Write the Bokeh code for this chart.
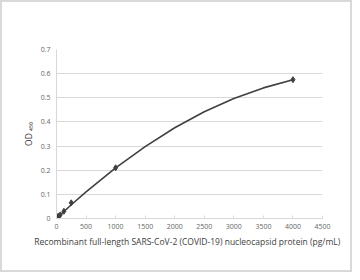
from bokeh.plotting import figure
from bokeh.models import Range1d, FixedTicker
from bokeh.embed import file_html
from bokeh.resources import INLINE

# measured standards
conc = [0, 31.25, 62.5, 125, 250, 1000, 4000]
od = [0.005, 0.010, 0.015, 0.030, 0.065, 0.210, 0.575]

# trend curve
curve_x = [0, 250, 500, 1000, 1500, 2000, 2500, 3000, 3500, 4000]
curve_y = [0.0, 0.057, 0.110, 0.210, 0.298, 0.376, 0.442, 0.497, 0.541, 0.575]

x_ticks = [0, 500, 1000, 1500, 2000, 2500, 3000, 3500, 4000, 4500]
y_ticks = [0, 0.1, 0.2, 0.3, 0.4, 0.5, 0.6, 0.7]
x_title = "Recombinant  full-length SARS-CoV-2 (COVID-19) nucleocapsid protein  (pg/mL)"
y_title = "OD \u2084\u2085\u2080"

FONT = "Open Sans"
p = figure(width=352, height=272, output_backend="svg", toolbar_location=None,
           x_range=Range1d(0, 4500), y_range=Range1d(0, 0.7),
           min_border_left=54, min_border_right=32, min_border_top=47, min_border_bottom=56)
p.styles = {"border": "2px solid #d9d9d9"}
p.outline_line_color = None
p.background_fill_color = "white"

p.xgrid.grid_line_color = None
p.ygrid.grid_line_color = "#d9d9d9"
p.ygrid.grid_line_width = 1

p.xaxis.ticker = FixedTicker(ticks=x_ticks)
p.yaxis.ticker = FixedTicker(ticks=y_ticks)
p.yaxis.major_label_overrides = {0: "0", 0.1: "0.1", 0.2: "0.2", 0.3: "0.3", 0.4: "0.4",
                                 0.5: "0.5", 0.6: "0.6", 0.7: "0.7"}
for ax in (p.xaxis, p.yaxis):
    ax.axis_line_color = "#d9d9d9"
    ax.major_tick_line_color = "#d9d9d9"
    ax.minor_tick_line_color = None
    ax.major_label_text_font = FONT
    ax.major_label_text_font_size = "7px"
    ax.major_label_text_color = "#666666"
    ax.axis_label_text_font = FONT
    ax.axis_label_text_font_style = "normal"
    ax.axis_label_text_color = "#404040"
    ax.axis_label_text_font_size = "8.5px"
p.yaxis.major_tick_out = 0
p.yaxis.major_tick_in = 0
p.yaxis.major_label_standoff = 6
p.xaxis.major_tick_out = 0
p.xaxis.major_tick_in = 3
p.xaxis.major_label_standoff = 5

p.xaxis.axis_label = x_title
p.xaxis.axis_label_standoff = 4
p.yaxis.axis_label = y_title
p.yaxis.axis_label_standoff = 4

p.line(curve_x, curve_y, line_color="#404040", line_width=1.6)
p.scatter(conc, od, marker="diamond", size=6, color="#404040")

open("out.html", "w").write(file_html(p, INLINE))
